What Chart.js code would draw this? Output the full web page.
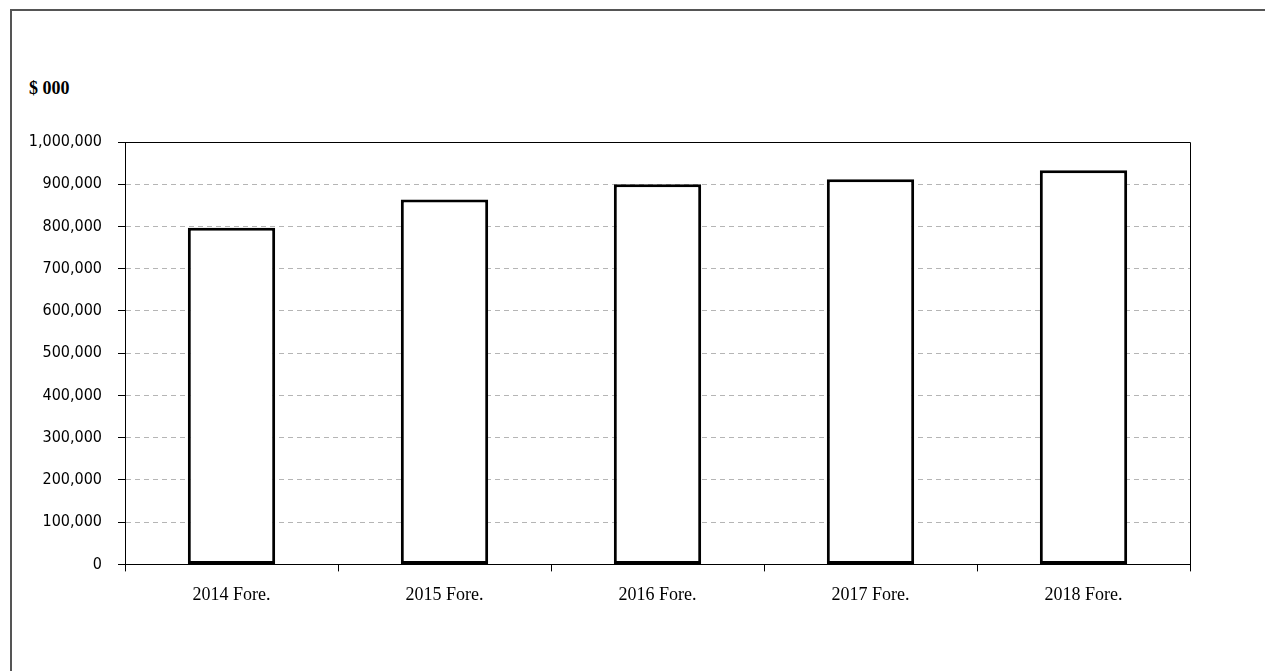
<!DOCTYPE html>
<html>
<head>
<meta charset="utf-8">
<script src="https://cdn.jsdelivr.net/npm/chart.js@4.4.1/dist/chart.umd.min.js"></script>
<style>
  html, body { margin: 0; padding: 0; background: #fff; overflow: hidden; }
  #wrap { position: relative; width: 1265px; height: 671px; }
  #frame { position: absolute; left: 10px; top: 9px; width: 1300px; height: 700px;
           border-left: 2px solid #555; border-top: 2px solid #555; }
  #unit { position: absolute; left: 29px; top: 78px; font: bold 18px "Liberation Serif", serif; color: #000; }
  canvas { position: absolute; left: 0; top: 0; }
</style>
</head>
<body>
<div id="wrap">
  <div id="frame"></div>
  <div id="unit">$ 000</div>
  <canvas id="chart" width="1265" height="671"></canvas>
</div>
<script>
const categories = ['2014 Fore.', '2015 Fore.', '2016 Fore.', '2017 Fore.', '2018 Fore.'];
const values = [797000, 864000, 900000, 912000, 933000];
const yMax = 1000000;
const yStep = 100000;

// solid frame on top and right of the plot area
const plotFrame = {
  id: 'plotFrame',
  afterDraw(chart) {
    const {ctx, chartArea} = chart;
    ctx.save();
    ctx.strokeStyle = '#000';
    ctx.lineWidth = 1;
    ctx.beginPath();
    ctx.moveTo(chartArea.left, chartArea.top + 0.5);
    ctx.lineTo(chartArea.right + 0.5, chartArea.top + 0.5);
    ctx.lineTo(chartArea.right + 0.5, chartArea.bottom);
    ctx.stroke();
    ctx.restore();
  }
};

const chart = new Chart(document.getElementById('chart'), {
  type: 'bar',
  data: {
    labels: categories,
    datasets: [{
      data: values,
      backgroundColor: '#fff',
      borderColor: '#000',
      borderWidth: 3,
      borderSkipped: false,
      barPercentage: 0.41,
      categoryPercentage: 1
    }]
  },
  options: {
    responsive: false,
    animation: false,
    layout: { padding: { left: 20, top: 142, right: 75, bottom: 52 } },
    plugins: { legend: { display: false }, tooltip: { enabled: false } },
    scales: {
      x: {
        grid: { display: true, drawOnChartArea: false, drawTicks: true, tickLength: 7, tickColor: '#000', offset: true },
        border: { display: true, color: '#000', width: 1 },
        ticks: { color: '#000', padding: 13, font: { family: 'Liberation Serif', size: 18 } }
      },
      y: {
        min: 0,
        max: yMax,
        afterFit(scale) { scale.width = 105; },
        grid: {
          color: ctx => (ctx.tick && (ctx.tick.value === yMax || ctx.tick.value === 0)) ? '#000' : '#b5b5b5',
          tickColor: '#000',
          tickLength: 7
        },
        border: {
          display: true, color: '#000', width: 1,
          dash: ctx => (ctx.tick && ctx.tick.value > 0 && ctx.tick.value < yMax) ? [5, 4] : []
        },
        ticks: {
          stepSize: yStep,
          color: '#000',
          padding: 16,
          font: { family: 'DejaVu Sans Condensed', size: 16 },
          callback: v => v.toLocaleString('en-US')
        }
      }
    }
  },
  plugins: [plotFrame]
});
</script>
</body>
</html>
